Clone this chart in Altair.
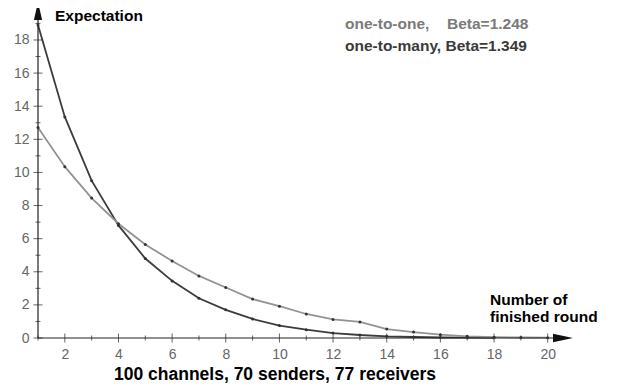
import altair as alt
import pandas as pd

rounds_many = list(range(1, 19))
many_vals = [18.9, 13.35, 9.5, 6.8, 4.8, 3.45, 2.4, 1.7, 1.15, 0.75, 0.5, 0.3, 0.18, 0.1, 0.06, 0.03, 0.02, 0.01]
rounds_one = list(range(1, 21))
one_vals = [12.72, 10.35, 8.45, 6.9, 5.65, 4.65, 3.75, 3.05, 2.35, 1.92, 1.45, 1.12, 0.97, 0.54, 0.36, 0.2, 0.1, 0.05, 0.03, 0.02]
x_ticks = list(range(1, 21))
y_ticks = list(range(0, 20))
x_labels = list(range(2, 21, 2))
y_labels = list(range(0, 19, 2))

FONT = "Liberation Sans"
DARK = "#3c3c3c"
LIGHT = "#939393"

df = pd.concat([
    pd.DataFrame({"round": rounds_many, "value": many_vals, "series": "one-to-many"}),
    pd.DataFrame({"round": rounds_one, "value": one_vals, "series": "one-to-one"}),
])

xs = alt.Scale(domain=[1, 21.13], nice=False, zero=False)
ys = alt.Scale(domain=[0, 19.69], nice=False, zero=False)
xax = alt.Axis(values=x_labels, domain=False, ticks=False, grid=False, title=None, labelOverlap=False,
               labelColor="#666", labelFontSize=14, labelFont=FONT, labelPadding=9)
yax = alt.Axis(values=y_labels, domain=False, ticks=False, grid=False, title=None, labelOverlap=False,
               labelColor="#666", labelFontSize=14, labelFont=FONT, labelPadding=9)

def X(f):
    return alt.X(f, scale=xs, axis=xax)

def Y(f):
    return alt.Y(f, scale=ys, axis=yax)

color = alt.Color("series:N", scale=alt.Scale(domain=["one-to-many", "one-to-one"], range=[DARK, LIGHT]), legend=None)

lines = alt.Chart(df).mark_line(strokeWidth=1.8).encode(
    x=X("round:Q"), y=Y("value:Q"), color=color, detail="series:N")

pts = alt.Chart(df).mark_point(filled=True, size=9, color="#333", opacity=1).encode(
    x=X("round:Q"), y=Y("value:Q"))

# axis lines
axis_df = pd.DataFrame({"x": [1, 1], "x2": [20.5, 1], "y": [0, 0], "y2": [0, 19.5]})
axes = alt.Chart(axis_df).mark_rule(color="#222", strokeWidth=1.2).encode(
    x=X("x:Q"), x2="x2:Q", y=Y("y:Q"), y2="y2:Q")

up_path = "M0,-1L0.45,1L-0.45,1Z"
right_path = "M1,0L-1,0.42L-1,-0.42Z"
arrow_df = pd.DataFrame({"x": [1, 20.57], "y": [19.75, 0], "shape": [up_path, right_path], "sz": [330, 400]})
arrows = alt.Chart(arrow_df).mark_point(filled=True, color="#111", opacity=1).encode(
    x=X("x:Q"), y=Y("y:Q"),
    shape=alt.Shape("shape:N", scale=None), size=alt.Size("sz:Q", scale=None))

xt = pd.DataFrame({"x": x_ticks, "y": 0, "len": [9 if v % 2 == 0 else 5 for v in x_ticks]})
xtick = alt.Chart(xt).mark_tick(orient="vertical", color="#222", thickness=1).encode(
    x=X("x:Q"), y=Y("y:Q"), size=alt.Size("len:Q", scale=None))
yt = pd.DataFrame({"x": 1, "y": y_ticks, "len": [9 if v % 2 == 0 else 5 for v in y_ticks]})
ytick = alt.Chart(yt).mark_tick(orient="horizontal", color="#222", thickness=1).encode(
    x=X("x:Q"), y=Y("y:Q"), size=alt.Size("len:Q", scale=None))

def label(txt, px, py, size=13, color="#000", align="left"):
    return alt.Chart(pd.DataFrame({"t": [txt]})).mark_text(
        font=FONT, fontSize=size, fontWeight="bold", color=color, align=align, baseline="middle"
    ).encode(text="t:N", x=alt.value(px), y=alt.value(py))

texts = [
    label("Expectation", 17, 4, 15.5),
    label("one-to-one,", 307, 12, 15.5, "#7a7a7a"),
    label("Beta=1.248", 409, 12, 15.5, "#7a7a7a"),
    label("one-to-many, Beta=1.349", 307, 34, 15.5, "#3a3a3a"),
    label("Number of", 452, 288, 15.5),
    label("finished round", 452, 305, 15.5),
    label("100 channels, 70 senders, 77 receivers", 237, 363, 17.5, "#000", "center"),
]

chart = alt.layer(lines, axes, xtick, ytick, arrows, pts, *texts).properties(
    width=540, height=326,
    autosize=alt.AutoSizeParams(type="none"),
    padding={"left": 30, "top": 4, "right": 34, "bottom": 48},
).configure_view(stroke=None)

chart.save("out.html", embed_options={"renderer": "svg", "actions": False})
